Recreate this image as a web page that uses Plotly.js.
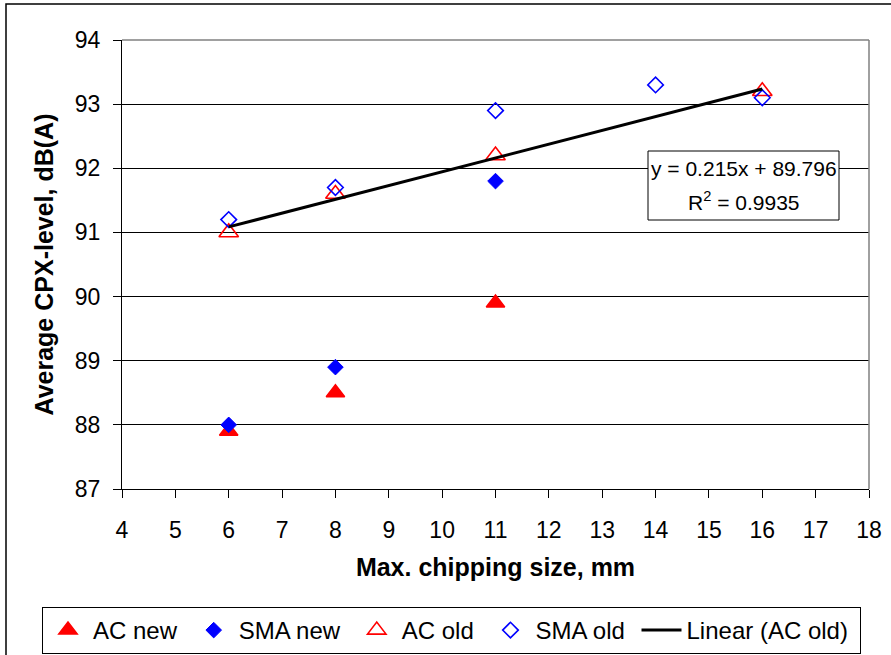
<!DOCTYPE html>
<html>
<head>
<meta charset="utf-8">
<script src="https://cdn.plot.ly/plotly-3.0.1.min.js"></script>
<style>
  html, body { margin: 0; padding: 0; background: #fff; }
  #chart { width: 891px; height: 655px; }
</style>
</head>
<body>
<div id="chart"></div>
<script>
// ---- data ----
const acNewX = [6, 8, 11];
const acNewY = [87.9, 88.5, 89.9];
const smaNewX = [6, 8, 11];
const smaNewY = [88.0, 88.9, 91.8];
const acOldX = [6, 8, 11, 16];
const acOldY = [91.0, 91.6, 92.2, 93.2];
const smaOldX = [6, 8, 11, 14, 16];
const smaOldY = [91.2, 91.7, 92.9, 93.3, 93.1];
const seriesNames = ["AC new", "SMA new", "AC old", "SMA old", "Linear (AC old)"];
const xTicks = [4, 5, 6, 7, 8, 9, 10, 11, 12, 13, 14, 15, 16, 17, 18];
const yTicks = [87, 88, 89, 90, 91, 92, 93, 94];
const eqText = "y = 0.215x + 89.796";
const r2Text = "R<sup>2</sup> = 0.9935";

// least-squares trend for AC old
function fit(xs, ys) {
  const n = xs.length;
  const mx = xs.reduce((a, b) => a + b, 0) / n;
  const my = ys.reduce((a, b) => a + b, 0) / n;
  let sxy = 0, sxx = 0;
  for (let i = 0; i < n; i++) { sxy += (xs[i] - mx) * (ys[i] - my); sxx += (xs[i] - mx) ** 2; }
  const m = sxy / sxx;
  return { m: m, b: my - m * mx };
}
const tr = fit(acOldX, acOldY);
const trendX = [Math.min(...acOldX), Math.max(...acOldX)];
const trendY = trendX.map(x => tr.m * x + tr.b);

const FONT = '"Liberation Sans", Arial, sans-serif';
const RED = '#FF0000', BLUE = '#0000FF';
const NB = '\u00A0';

const traces = [
  { x: acNewX, y: acNewY, name: seriesNames[0] + NB, type: 'scatter', mode: 'markers',
    marker: { symbol: 'triangle-up', size: 16, color: RED, line: { color: RED, width: 1.5 } } },
  { x: smaNewX, y: smaNewY, name: seriesNames[1] + NB, type: 'scatter', mode: 'markers',
    marker: { symbol: 'diamond', size: 12, color: BLUE, line: { color: BLUE, width: 1 } } },
  { x: acOldX, y: acOldY, name: seriesNames[2] + NB, type: 'scatter', mode: 'markers',
    marker: { symbol: 'triangle-up-open', size: 17, color: RED, line: { color: RED, width: 1.6 } } },
  { x: smaOldX, y: smaOldY, name: seriesNames[3] + NB, type: 'scatter', mode: 'markers',
    marker: { symbol: 'diamond-open', size: 12, color: BLUE, line: { color: BLUE, width: 1.6 } } },
  { x: trendX, y: trendY, name: seriesNames[4] + NB, type: 'scatter', mode: 'lines',
    line: { color: '#000', width: 3 } }
];

// pixel helpers for layout placement (plot area: l=122, t=40, w=747, h=449)
const L = 122, T = 40, W = 747, H = 449, CW = 891, CH = 655;
const px = p => (p - L) / W;
const py = p => (T + H - p) / H;

const layout = {
  width: CW, height: CH,
  margin: { l: L, r: CW - L - W, t: T, b: CH - T - H, autoexpand: false },
  paper_bgcolor: '#fff', plot_bgcolor: '#fff',
  font: { family: FONT, color: '#000', size: 23 },
  showlegend: true,
  xaxis: {
    range: [4, 18], tickvals: xTicks, ticktext: xTicks.map(String),
    showgrid: false, zeroline: false, automargin: false,
    showline: true, linecolor: '#000', linewidth: 1,
    ticks: 'outside', ticklen: 8, tickcolor: '#000', tickwidth: 1,
    ticklabelstandoff: 12,
    tickfont: { size: 23, family: FONT },
    title: { text: 'Max. chipping size, mm', font: { size: 25, family: FONT, weight: 'bold' }, standoff: 16 }
  },
  yaxis: {
    range: [87, 94], tickvals: yTicks, ticktext: yTicks.map(String),
    showgrid: true, gridcolor: '#000', gridwidth: 1, zeroline: false, automargin: false,
    showline: true, linecolor: '#000', linewidth: 1,
    ticks: 'outside', ticklen: 8, tickcolor: '#000', tickwidth: 1,
    ticklabelstandoff: 8,
    tickfont: { size: 23, family: FONT },
    title: { text: 'Average CPX-level, dB(A)', font: { size: 25, family: FONT, weight: 'bold' }, standoff: 14 }
  },
  legend: {
    orientation: 'h',
    xanchor: 'left', x: px(42), yanchor: 'top', y: py(607),
    bordercolor: '#000', borderwidth: 1, bgcolor: '#fff', itemwidth: 40,
    font: { size: 24, family: FONT }
  },
  shapes: [
    // outer chart frame
    { type: 'rect', xref: 'paper', yref: 'paper', x0: px(6), x1: px(900), y0: py(665), y1: py(4),
      line: { color: '#000', width: 1.5 }, fillcolor: 'rgba(0,0,0,0)', layer: 'below' },
    // gray top and right plot border
    { type: 'line', xref: 'paper', yref: 'paper', x0: 0, x1: 1, y0: 1, y1: 1, line: { color: '#808080', width: 1.5 } },
    { type: 'line', xref: 'paper', yref: 'paper', x0: 1, x1: 1, y0: 0, y1: 1, line: { color: '#808080', width: 1.5 } },
    // trendline label box
    { type: 'rect', xref: 'paper', yref: 'paper', x0: px(648), x1: px(839), y0: py(220), y1: py(151),
      line: { color: '#000', width: 1 }, fillcolor: '#fff', layer: 'above' }
  ],
  annotations: [
    { xref: 'paper', yref: 'paper', x: px(743.5), y: py(168), text: eqText, showarrow: false,
      xanchor: 'center', yanchor: 'middle', font: { size: 21, family: FONT } },
    { xref: 'paper', yref: 'paper', x: px(743.5), y: py(201), text: r2Text, showarrow: false,
      xanchor: 'center', yanchor: 'middle', font: { size: 21, family: FONT } }
  ]
};

Plotly.newPlot('chart', traces, layout, { displayModeBar: false, staticPlot: true });
</script>
</body>
</html>
